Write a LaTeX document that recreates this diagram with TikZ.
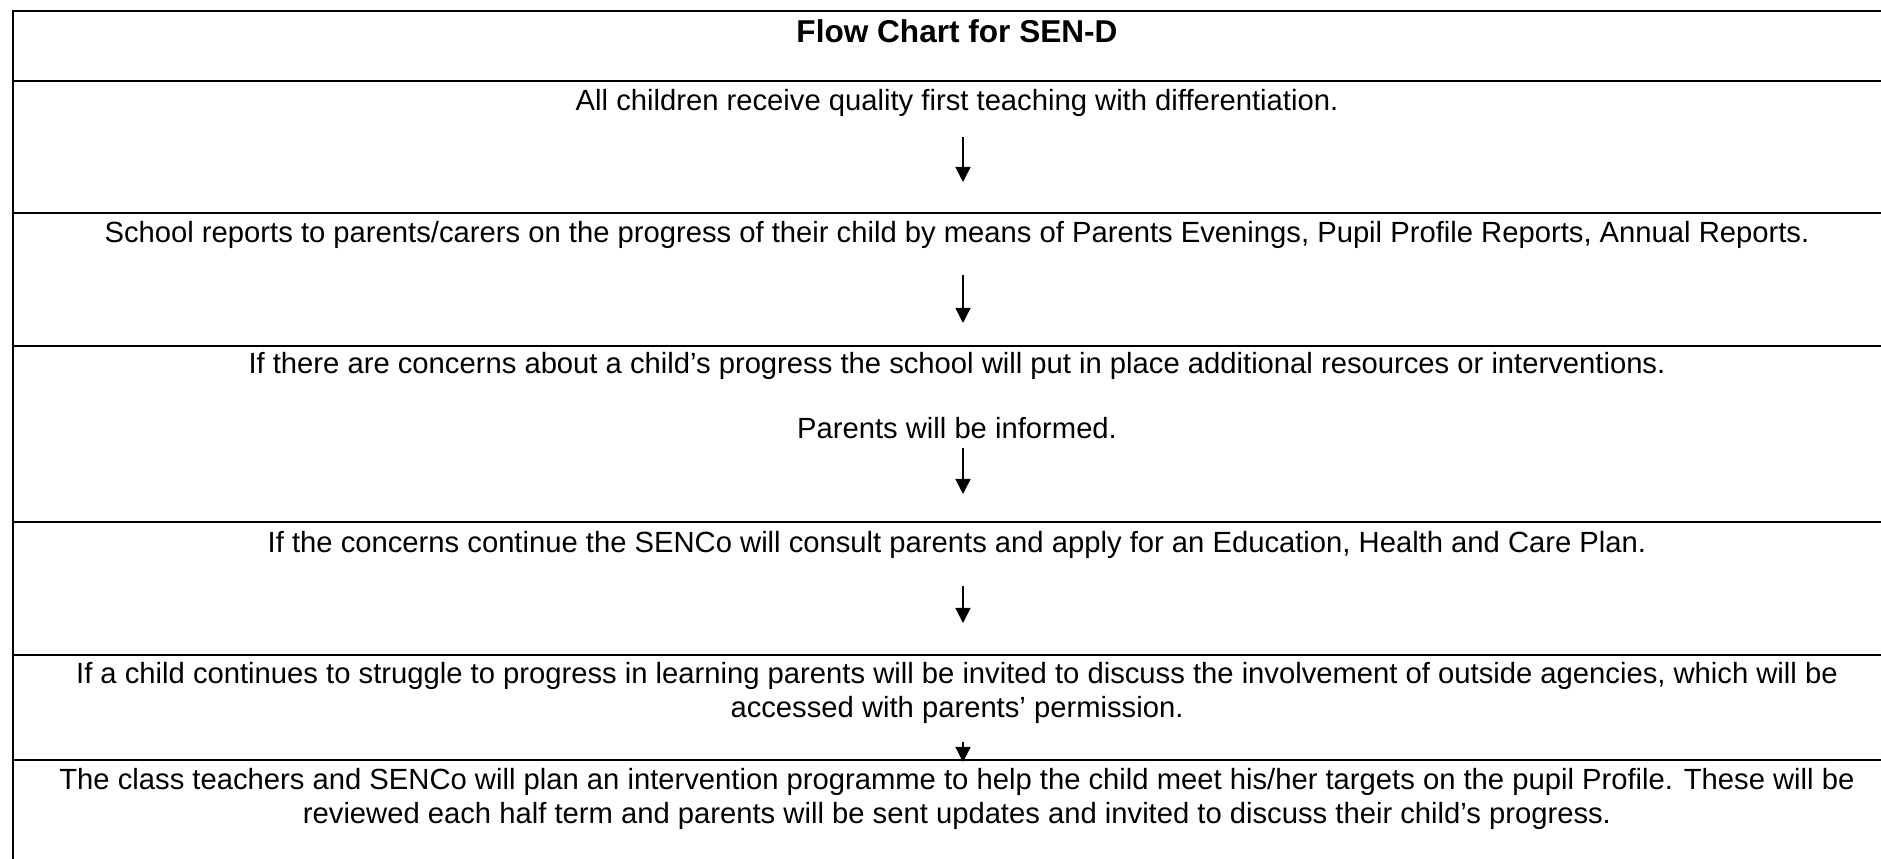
\documentclass[tikz,border=0pt]{standalone}
\usepackage{fontspec}
\setmainfont{Liberation Sans}
\usetikzlibrary{arrows.meta}
\begin{document}
\begin{tikzpicture}[x=0.38pt,y=-0.38pt,
  txt/.style={anchor=base,inner sep=0pt,font=\fontsize{11.1}{13}\selectfont},
  ttl/.style={anchor=base,inner sep=0pt,font=\fontsize{12}{14}\selectfont\bfseries},
  heavyrule/.style={line width=0.76pt},
  lightrule/.style={line width=0.5pt},
  flow/.style={line width=0.5pt,-{Triangle[width=5.7pt,length=5.7pt]}}]
\useasboundingbox (0,0) rectangle (1881,859);
% table rules
\draw[heavyrule] (13,11) -- (1881,11);
\draw[heavyrule] (13,81) -- (1881,81);
\draw[heavyrule] (13,10) -- (13,859);
\draw[lightrule] (13,213) -- (1881,213);
\draw[lightrule] (13,346) -- (1881,346);
\draw[lightrule] (13,522) -- (1881,522);
\draw[lightrule] (13,655) -- (1881,655);
\draw[lightrule] (13,760) -- (1881,760);
% texts
\node[ttl] (title) at (957,43) {Flow Chart for SEN-D};
\node[txt] (r2) at (957,110.5) {All children receive quality first teaching with differentiation.};
\node[txt] (r3) at (957,242.5) {School reports to parents/carers on the progress of their child by means of Parents Evenings, Pupil Profile Reports, Annual Reports.};
\node[txt] (r4a) at (957,373.5) {If there are concerns about a child’s progress the school will put in place additional resources or interventions.};
\node[txt] (r4b) at (957,438.5) {Parents will be informed.};
\node[txt] (r5) at (957,552.5) {If the concerns continue the SENCo will consult parents and apply for an Education, Health and Care Plan.};
\node[txt] (r6a) at (957,683.5) {If a child continues to struggle to progress in learning parents will be invited to discuss the involvement of outside agencies, which will be};
\node[txt] (r6b) at (957,717.5) {accessed with parents’ permission.};
\node[txt] (r7a) at (957,789.5) {The class teachers and SENCo will plan an intervention programme to help the child meet his/her targets on the pupil Profile. These will be};
\node[txt] (r7b) at (957,823.5) {reviewed each half term and parents will be sent updates and invited to discuss their child’s progress.};
% arrows
\coordinate (a1s) at (963,137); \coordinate (a1e) at (963,182);
\coordinate (a2s) at (963,275); \coordinate (a2e) at (963,323);
\coordinate (a3s) at (963,448); \coordinate (a3e) at (963,494);
\coordinate (a4s) at (963,586); \coordinate (a4e) at (963,623);
\coordinate (a5s) at (963,742); \coordinate (a5e) at (963,762);
\draw[flow] (a1s) -- (a1e);
\draw[flow] (a2s) -- (a2e);
\draw[flow] (a3s) -- (a3e);
\draw[flow] (a4s) -- (a4e);
\draw[flow] (a5s) -- (a5e);
\end{tikzpicture}
\end{document}
